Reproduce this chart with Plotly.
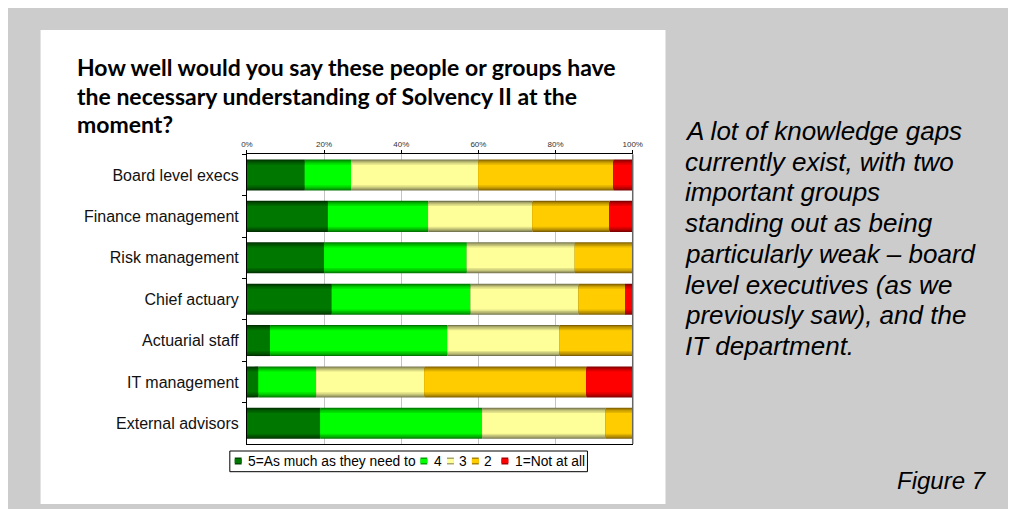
import numpy as np
import plotly.graph_objects as go

# ---------------- data ----------------
categories = ["Board level execs", "Finance management", "Risk management",
              "Chief actuary", "Actuarial staff", "IT management", "External advisors"]
series_names = ["5=As much as they need to", "4", "3", "2", "1=Not at all"]
s5 = [15, 21, 20, 22, 6, 3, 19]
s4 = [12, 26, 37, 36, 46, 15, 42]
s3 = [33, 27, 28, 28, 29, 28, 32]
s2 = [35, 20, 15, 12, 20, 42, 7]
s1 = [5, 7, 0, 2, 0, 12, 0]
tick_vals = [0, 20, 40, 60, 80, 100]
tick_text = ["0%", "20%", "40%", "60%", "80%", "100%"]

title_lines = ["How well would you say these people or groups have",
               "the necessary understanding of Solvency II at the",
               "moment?"]
side_lines = ["A lot of knowledge gaps", "currently exist, with two",
              "important groups", "standing out as being",
              "particularly weak \u2013 board", "level executives (as we",
              "previously saw), and the", "IT department."]
figure_label = "Figure 7"

# ---------------- styling ----------------
FW, FH = 1008, 501          # figure size (page has 8px body margin)
OFF = 8
edge_cols = [(0, 48, 0), (0, 120, 0), (120, 120, 80), (128, 96, 0), (128, 0, 0)]
mid_cols = [(0, 120, 0), (0, 255, 0), (255, 255, 153), (255, 204, 0), (255, 0, 0)]
layer_widths = [0.75, 0.70, 0.64, 0.57, 0.50]


def mix(a, b, t):
    return "rgb(%d,%d,%d)" % tuple(round(a[i] + (b[i] - a[i]) * t) for i in range(3))


def px_x(v):
    return (v - OFF) / FW


def px_y(v):
    return 1 - (v - OFF) / FH


values = np.array([s5, s4, s3, s2, s1], dtype=float)
bases = np.vstack([np.zeros(len(categories)), np.cumsum(values, axis=0)[:-1]])

fig = go.Figure()
for si, name in enumerate(series_names):
    nl = len(layer_widths)
    for li, w in enumerate(layer_widths):
        t = (li / (nl - 1)) ** 0.8
        fig.add_trace(go.Bar(
            y=categories, x=values[si], base=bases[si], orientation="h",
            width=w, marker=dict(color=mix(edge_cols[si], mid_cols[si], t), line=dict(width=0)),
            name=name, legendgroup=name, showlegend=False,
            hoverinfo="skip",
        ))

plot_l, plot_r, plot_t, plot_b = 244.7, 636.7, 154.3, 444.0

fig.update_layout(
    width=FW, height=FH, margin=dict(l=0, r=0, t=0, b=0),
    paper_bgcolor="#cccccc", plot_bgcolor="white",
    barmode="overlay", bargap=0.25,
    font=dict(family="Liberation Sans, Arial, sans-serif", color="black"),
    xaxis=dict(domain=[px_x(plot_l), px_x(plot_r)], range=[0, 100], side="top",
               tickvals=tick_vals, ticktext=tick_text, ticks="outside", ticklen=3,
               tickcolor="black", tickfont=dict(size=8, color="#333"),
               showgrid=True, gridcolor="#c4c4c4", gridwidth=1,
               showline=True, linecolor="black", linewidth=1, mirror=True,
               zeroline=False, fixedrange=True),
    yaxis=dict(domain=[px_y(plot_b), px_y(plot_t)], autorange="reversed",
               type="category", ticks="outside", ticklen=4, tickson="boundaries",
               tickcolor="black", tickfont=dict(size=16, color="#111"),
               ticklabelstandoff=4,
               showline=True, linecolor="black", linewidth=1, showgrid=False,
               fixedrange=True),
    showlegend=False,
)

shapes = [
    dict(type="rect", xref="paper", yref="paper", x0=px_x(35), x1=px_x(670),
         y0=px_y(504), y1=px_y(30), fillcolor="white", line=dict(width=0), layer="below"),
    dict(type="line", xref="x domain", yref="y domain", x0=1, x1=1, y0=0, y1=1,
         line=dict(color="#666666", width=1.5), layer="above"),
    # legend box
    dict(type="rect", xref="paper", yref="paper", x0=px_x(227.3), x1=px_x(590.7),
         y0=px_y(471.7), y1=px_y(451), fillcolor="white", line=dict(color="black", width=1)),
]

annotations = []
# custom legend (symbols + labels)
legend_sym_x = [232.3, 421.0, 448.0, 473.3, 503.3]
legend_txt_x = [245.0, 433.3, 459.0, 485.0, 515.7]
for si, name in enumerate(series_names):
    sx = legend_sym_x[si]
    shapes.append(dict(type="rect", xref="paper", yref="paper", x0=px_x(sx), x1=px_x(sx + 7),
                       y0=px_y(464.5), y1=px_y(457.5), fillcolor=mix(edge_cols[si], mid_cols[si], 0.35),
                       line=dict(width=0)))
    shapes.append(dict(type="rect", xref="paper", yref="paper", x0=px_x(sx), x1=px_x(sx + 7),
                       y0=px_y(463), y1=px_y(459), fillcolor=mix(edge_cols[si], mid_cols[si], 1.0),
                       line=dict(width=0)))
    annotations.append(dict(text=name, x=px_x(legend_txt_x[si] - 1), y=px_y(461.5), xref="paper", yref="paper",
                            xanchor="left", yanchor="middle", showarrow=False,
                            font=dict(family="Liberation Sans, Arial, sans-serif", size=13.8, color="black")))
fig.update_layout(shapes=shapes)

title_y = [67, 95.5, 124]
for line, yy in zip(title_lines, title_y):
    annotations.append(dict(text="<b>%s</b>" % line, x=px_x(70), y=px_y(yy), xref="paper", yref="paper",
                            xanchor="left", yanchor="middle", showarrow=False,
                            font=dict(family="Lato, Liberation Sans, sans-serif", size=23, color="black")))
for i, line in enumerate(side_lines):
    annotations.append(dict(text="<i>%s</i>" % line, x=px_x(688), y=px_y(131 + 30.7 * i),
                            xref="paper", yref="paper", xanchor="left", yanchor="middle",
                            showarrow=False,
                            font=dict(family="Liberation Sans, Arial, sans-serif", size=26, color="black")))
annotations.append(dict(text="<i>%s</i>" % figure_label, x=px_x(999), y=px_y(480), xref="paper", yref="paper",
                        xanchor="right", yanchor="middle", showarrow=False,
                        font=dict(family="Liberation Sans, Arial, sans-serif", size=24, color="black")))
fig.update_layout(annotations=annotations)

fig.write_html("out.html")
